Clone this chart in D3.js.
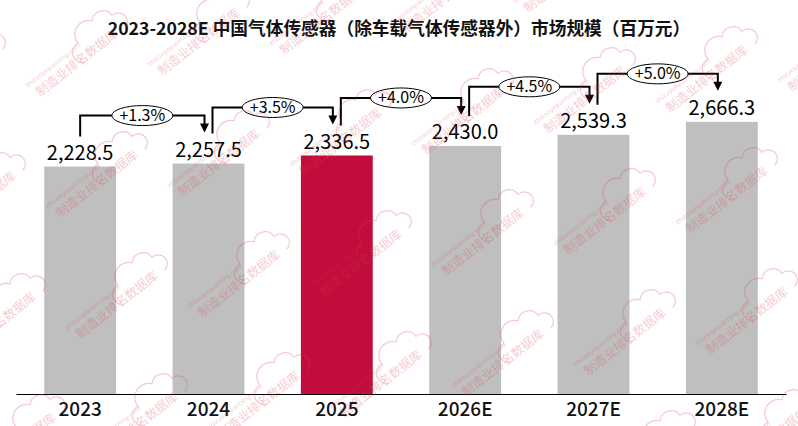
<!DOCTYPE html>
<html><head><meta charset="utf-8">
<script src="https://cdn.jsdelivr.net/npm/d3@7"></script>
<style>body{margin:0;background:#fff}svg{display:block}</style></head>
<body><svg id="c" width="798" height="426"></svg>
<script>
const categories = ["2023", "2024", "2025", "2026E", "2027E", "2028E"];
const values = [2228.5, 2257.5, 2336.5, 2430.0, 2539.3, 2666.3];
const growthLabels = ["+1.3%", "+3.5%", "+4.0%", "+4.5%", "+5.0%"];
const highlightCategory = "2025";
const titleText = "2023-2028E 中国气体传感器（除车载气体传感器外）市场规模（百万元）";
const watermarkText = "制造业排名数据库";
const watermarkUrl = "zhizaoyepaiming.com";

const FONT = "'Noto Sans CJK SC','Noto Sans',sans-serif";
const svg = d3.select("#c");

const x = d3.scaleBand().domain(categories).range([16, 786]).paddingInner(0.44).paddingOuter(0.22);
const y = d3.scaleLinear().domain([0, 3860]).range([394, 0]);
const bw = x.bandwidth();

// bars
svg.append("g").selectAll("rect").data(categories).join("rect")
  .attr("x", d => x(d)).attr("width", bw)
  .attr("y", (d, i) => y(values[i])).attr("height", (d, i) => y(0) - y(values[i]))
  .attr("fill", d => d === highlightCategory ? "#c20c3c" : "#bfbfbf");

// axis
const ax = svg.append("g").attr("transform", `translate(0,${y(0)})`)
  .call(d3.axisBottom(x).tickSize(0).tickPadding(9).tickSizeOuter(0));
ax.select(".domain").attr("stroke", "#000").attr("stroke-width", 1.2);
ax.selectAll("text").attr("font-family", FONT).attr("font-size", 19).attr("font-weight", 500).attr("fill", "#111");

// value labels
svg.append("g").selectAll("text").data(categories).join("text")
  .attr("x", d => x(d) + bw / 2).attr("y", (d, i) => y(values[i]) - 7)
  .attr("text-anchor", "middle").attr("font-family", FONT).attr("font-size", 20).attr("fill", "#000")
  .text((d, i) => d3.format(",.1f")(values[i]));

// growth arrows
const arrows = svg.append("g");
growthLabels.forEach((lab, i) => {
  const x1 = x(categories[i]) + bw / 2 + (i === 0 ? 0 : 4);
  const y1 = y(values[i]) - 30;
  const x2 = x(categories[i + 1]) + bw / 2 - 4;
  const tip = y(values[i + 1]) - 31;
  const level = tip - 17;
  arrows.append("path")
    .attr("d", `M${x1},${y1}V${level}H${x2}V${tip - 7}`)
    .attr("fill", "none").attr("stroke", "#000").attr("stroke-width", 2);
  arrows.append("path")
    .attr("d", `M${x2 - 4.5},${tip - 9}L${x2 + 4.5},${tip - 9}L${x2},${tip}Z`)
    .attr("fill", "#000");
  const mx = (x1 + x2) / 2;
  arrows.append("ellipse").attr("cx", mx).attr("cy", level).attr("rx", 30.5).attr("ry", 10)
    .attr("fill", "#fff").attr("stroke", "#000").attr("stroke-width", 1);
  arrows.append("text").attr("x", mx).attr("y", level + 5.5).attr("text-anchor", "middle")
    .attr("font-family", FONT).attr("font-size", 16).attr("fill", "#000").text(lab);
});

// title
svg.append("text").attr("x", 399).attr("y", 35).attr("text-anchor", "middle")
  .attr("font-family", FONT).attr("font-size", 17.7).attr("font-weight", 700).attr("fill", "#111")
  .text(titleText);

// watermark tiles drawn on top, faint
const wm = svg.append("g").attr("opacity", 0.28).attr("fill", "#d9434f");
for (let m = -3; m < 9; m++) {
  for (let n = -2; n < 5; n++) {
    const ox = 40 + m * 122 + n * 20;
    const oy = 97 - m * 21 + n * 121;
    if (ox < -130 || ox > 805 || oy < -5 || oy > 500) continue;
    const g = wm.append("g").attr("transform", `translate(${ox},${oy}) rotate(-38)`);
    g.append("path")
      .attr("d", "M57,0 a10,10 0 0,1 6,-19 a14,14 0 0,1 25,-9 a11,11 0 0,1 19,8 a8,8 0 0,1 2,18")
      .attr("fill", "none").attr("stroke", "#d9434f").attr("stroke-width", 1.2);
    g.append("text").attr("x", 0).attr("y", 0).attr("font-family", FONT)
      .attr("font-size", 12.5).text(watermarkText);
    g.append("text").attr("x", -4).attr("y", -15).attr("font-family", "'DejaVu Sans',sans-serif")
      .attr("font-size", 6.2).text(watermarkUrl);
  }
}
</script></body></html>
